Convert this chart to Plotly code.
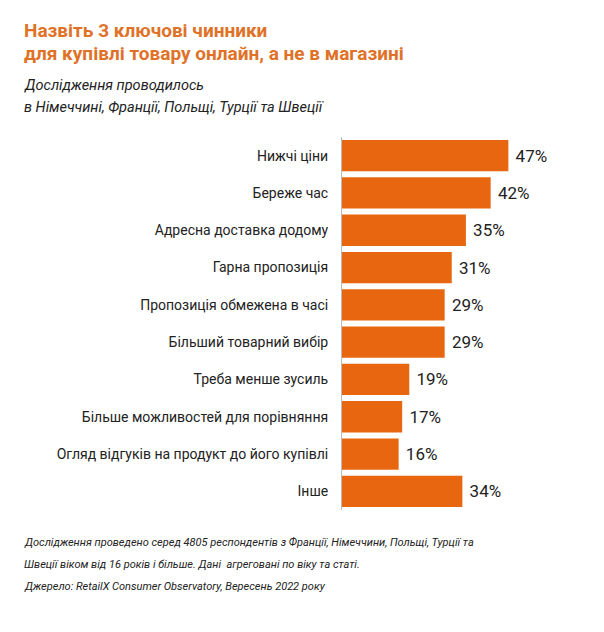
import plotly.graph_objects as go

# =====================
# DATA
# =====================
categories = [
    "Нижчі ціни",
    "Береже час",
    "Адресна доставка додому",
    "Гарна пропозиція",
    "Пропозиція обмежена в часі",
    "Більший товарний вибір",
    "Треба менше зусиль",
    "Більше можливостей для порівняння",
    "Огляд відгуків на продукт до його купівлі",
    "Інше",
]
values = [47, 42, 35, 31, 29, 29, 19, 17, 16, 34]

title_lines = ["Назвіть 3 ключові чинники", "для купівлі товару онлайн, а не в магазині"]
subtitle_lines = ["Дослідження проводилось", "в Німеччині, Франції, Польщі, Турції та Швеції"]
footer_lines = [
    "Дослідження проведено серед 4805 респондентів з Франції, Німеччини, Польщі, Турції та",
    "Швеції віком від 16 років і більше. Дані  агреговані по віку та статі.",
    "Джерело: RetailX Consumer Observatory, Вересень 2022 року",
]

# =====================
# Settings
# =====================
orange = "#E8660F"
title_orange = "#E07228"
font_fam = "Roboto, Arial, sans-serif"

# page body has an 8px margin, so the figure is drawn 8px in from the corner
W, H = 596, 624
OFF = 8
L, R, T, B = 342 - OFF, 604 - 519, 137 - OFF, 632 - 510

fig = go.Figure(go.Bar(
    x=values,
    y=categories,
    orientation="h",
    marker=dict(color=orange, line=dict(width=0)),
    texttemplate="\u00a0%{x}%",
    textposition="outside",
    textfont=dict(size=17, color="#222222", family=font_fam),
    cliponaxis=False,
    hoverinfo="skip",
))

fig.update_layout(
    width=W,
    height=H,
    margin=dict(l=L, r=R, t=T, b=B),
    paper_bgcolor="white",
    plot_bgcolor="white",
    bargap=0.16,
    showlegend=False,
    font=dict(family=font_fam, color="#222222"),
)

fig.update_xaxes(range=[0, 50], visible=False)
fig.update_yaxes(
    autorange="reversed",
    showline=True,
    linecolor="#bbbbbb",
    linewidth=1,
    showgrid=False,
    ticks="",
    ticklabelstandoff=10,
    tickfont=dict(size=14, color="#222222", family=font_fam),
)

# title / subtitle / footer as paper annotations (positions in page px)
annots = []
for i, line in enumerate(title_lines):
    annots.append(dict(text="<b>" + line + "</b>", x=22, y=30 + i * 23,
                       font=dict(size=19, color=title_orange)))
for i, line in enumerate(subtitle_lines):
    annots.append(dict(text="<i>" + line + "</i>", x=22, y=86 + i * 22,
                       font=dict(size=14.5, color="#222222")))
for i, line in enumerate(footer_lines):
    annots.append(dict(text="<i>" + line + "</i>", x=22, y=542 + i * 22,
                       font=dict(size=11, color="#222222")))

pw = W - L - R
ph = H - T - B
for a in annots:
    fig.add_annotation(
        text=a["text"],
        xref="paper", yref="paper",
        x=(a["x"] - OFF - L) / pw,
        y=1 - (a["y"] - OFF - T) / ph,
        xanchor="left", yanchor="middle",
        showarrow=False,
        align="left",
        font=dict(family=font_fam, **a["font"]),
    )

fig.write_html("out.html")
